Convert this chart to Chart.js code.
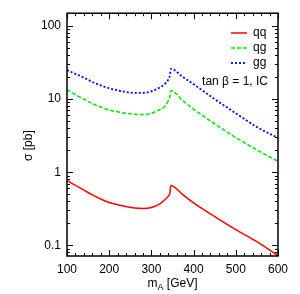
<!DOCTYPE html>
<html>
<head>
<meta charset="utf-8">
<script src="https://cdn.jsdelivr.net/npm/chart.js@4/dist/chart.umd.min.js"></script>
<style>
  html, body { margin: 0; padding: 0; background: #fff; }
  #wrap { width: 300px; height: 294px; }
</style>
</head>
<body>
<div id="wrap"><canvas id="chart1" width="300" height="294"></canvas></div>
<script>
// m_A [GeV]
const masses = [100, 120, 140, 160, 180, 200, 220, 240, 260, 280, 300, 320, 330, 340, 344, 346, 375, 400, 450, 500, 550, 600];
// sigma [pb]
const qq = [0.77, 0.66, 0.57, 0.49, 0.43, 0.385, 0.36, 0.34, 0.325, 0.32, 0.33, 0.37, 0.41, 0.47, 0.52, 0.66, 0.49, 0.38, 0.247, 0.164, 0.112, 0.072];
const qg = [13.5, 11.5, 10.0, 8.7, 7.8, 7.1, 6.7, 6.4, 6.2, 6.15, 6.4, 7.2, 7.8, 9.5, 11.0, 13.1, 9.5, 7.3, 4.6, 2.98, 2.02, 1.41];
const gg = [25.0, 22.2, 19.7, 17.2, 15.4, 14.1, 13.2, 12.5, 12.2, 12.2, 12.8, 14.5, 15.8, 18.5, 21.5, 26.0, 20.0, 16.0, 10.0, 6.4, 4.15, 2.95];

const seriesNames = ['qq', 'qg', 'gg'];
const xTicks = [100, 200, 300, 400, 500, 600];
const yTicks = [0.1, 1, 10, 100];
const note = 'tan \u03b2 = 1, IC';

const FONT = '"Liberation Sans", Arial, sans-serif';

let pts = (ys) => masses.map((m, i) => ({x: m, y: ys[i]}));

// frame, inward ticks, titles and the legend box
const decor = {
  id: 'decor',
  afterDatasetsDraw: (chart) => {
    const ctx = chart.ctx;
    const a = chart.chartArea;
    const xs = chart.scales.x, ys = chart.scales.y;
    ctx.save();
    ctx.strokeStyle = '#000';
    ctx.lineWidth = 1.5;
    ctx.strokeRect(a.left, a.top, a.right - a.left, a.bottom - a.top);

    ctx.lineWidth = 1;
    ctx.beginPath();
    for (let v = 100; v <= 600; v += 20) {
      let px = Math.round(xs.getPixelForValue(v)) + 0.5;
      let len = (v % 100 == 0) ? 6 : 3;
      ctx.moveTo(px, a.bottom); ctx.lineTo(px, a.bottom - len);
      ctx.moveTo(px, a.top); ctx.lineTo(px, a.top + len);
    }
    for (let d = 0.01; d <= 100; d *= 10) {
      for (let k = 1; k <= 9; k++) {
        let v = k * d;
        if (v < ys.min || v > ys.max) continue;
        let py = Math.round(ys.getPixelForValue(v)) + 0.5;
        let len = (k == 1) ? 6 : 3;
        ctx.moveTo(a.left, py); ctx.lineTo(a.left + len, py);
        ctx.moveTo(a.right, py); ctx.lineTo(a.right - len, py);
      }
    }
    ctx.stroke();

    // axis titles
    ctx.fillStyle = '#000';
    ctx.textBaseline = 'middle';
    ctx.textAlign = 'left';
    let t1 = 'm', t2 = 'A', t3 = ' [GeV]';
    ctx.font = '12px ' + FONT;
    let w1 = ctx.measureText(t1).width, w3 = ctx.measureText(t3).width;
    ctx.font = '9px ' + FONT;
    let w2 = ctx.measureText(t2).width;
    let x0 = (a.left + a.right) / 2 - (w1 + w2 + w3) / 2;
    ctx.font = '12px ' + FONT;
    ctx.fillText(t1, x0, 284);
    ctx.font = '9px ' + FONT;
    ctx.fillText(t2, x0 + w1, 288);
    ctx.font = '12px ' + FONT;
    ctx.fillText(t3, x0 + w1 + w2, 284);

    ctx.save();
    ctx.translate(29, (a.top + a.bottom) / 2 + 11);
    ctx.rotate(-Math.PI / 2);
    ctx.textAlign = 'center';
    ctx.fillText('\u03c3 [pb]', 0, 0);
    ctx.restore();

    // legend
    chart.data.datasets.forEach((ds, i) => {
      let y = 33 + i * 15;
      ctx.strokeStyle = ds.borderColor;
      ctx.lineWidth = ds.borderWidth;
      ctx.setLineDash(ds.borderDash || []);
      ctx.beginPath();
      ctx.moveTo(231, y); ctx.lineTo(247, y);
      ctx.stroke();
      ctx.setLineDash([]);
      ctx.fillStyle = '#000';
      ctx.textAlign = 'left';
      ctx.fillText(ds.label, 253, y);
    });
    ctx.textAlign = 'right';
    ctx.fillText(note, 268, 82);
    ctx.restore();
  }
};

const ctx = document.getElementById('chart1');
let chart = new Chart(ctx, {
  type: 'line',
  data: {
    datasets: [
      {label: seriesNames[0], data: pts(qq), borderColor: '#ff0000', borderWidth: 1.5, pointRadius: 0, cubicInterpolationMode: 'monotone'},
      {label: seriesNames[1], data: pts(qg), borderColor: '#00e600', borderWidth: 1.5, borderDash: [4, 2], pointRadius: 0, cubicInterpolationMode: 'monotone'},
      {label: seriesNames[2], data: pts(gg), borderColor: '#0000ff', borderWidth: 1.8, borderDash: [2, 2], pointRadius: 0, cubicInterpolationMode: 'monotone'}
    ]
  },
  options: {
    responsive: false,
    animation: false,
    layout: {padding: {top: 12, right: 22, left: 0, bottom: 0}},
    plugins: {legend: {display: false}, tooltip: {enabled: false}},
    scales: {
      x: {
        type: 'linear', min: 100, max: 600,
        grid: {display: false, drawTicks: false},
        border: {display: false},
        afterFit: (s) => { s.height = 38; },
        afterBuildTicks: (s) => { s.ticks = xTicks.map(v => ({value: v})); },
        ticks: {color: '#000', font: {family: FONT, size: 12}, padding: 6, maxRotation: 0}
      },
      y: {
        type: 'logarithmic', min: 0.0714, max: 150,
        grid: {display: false, drawTicks: false},
        border: {display: false},
        afterFit: (s) => { s.width = 67; },
        afterBuildTicks: (s) => { s.ticks = yTicks.map(v => ({value: v})); },
        ticks: {color: '#000', font: {family: FONT, size: 12}, padding: 6,
          callback: (v) => String(v)}
      }
    }
  },
  plugins: [decor]
});
</script>
</body>
</html>
